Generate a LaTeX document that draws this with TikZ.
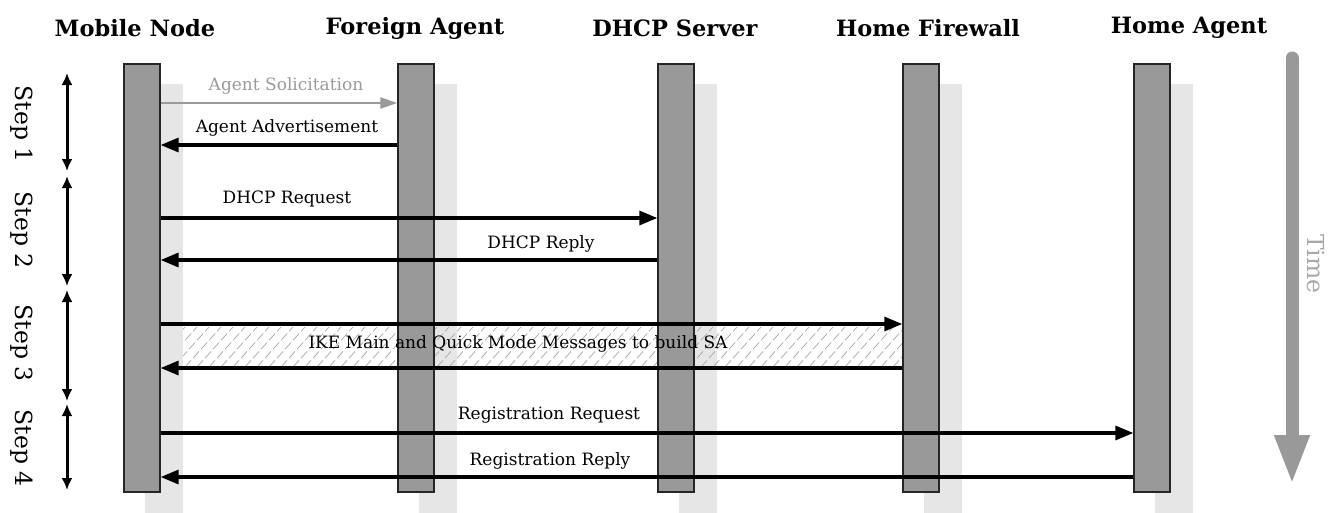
\documentclass[tikz,border=0pt]{standalone}
\usepackage{fontspec}
\setmainfont{DejaVu Serif}
\usetikzlibrary{arrows.meta}
\definecolor{barfill}{HTML}{999999}
\definecolor{shadowgray}{HTML}{E6E6E6}
\definecolor{soft}{HTML}{9A9A9A}
\definecolor{timetext}{HTML}{A8A8A8}
\definecolor{hatchc}{HTML}{A8A8A8}
\tikzset{
  lifeline/.style={draw=black!85, line width=1.3pt, fill=barfill, minimum width=36pt, minimum height=428pt, inner sep=0pt},
  head/.style={font=\bfseries\fontsize{22.5}{26}\selectfont, anchor=center},
  lbl/.style={font=\fontsize{17}{20}\selectfont, anchor=center, inner sep=0pt},
  msg/.style={line width=3.2pt, -{Triangle[length=18pt,width=14pt]}},
  softmsg/.style={line width=2.2pt, draw=soft, -{Triangle[length=17pt,width=11pt]}},
  steparrow/.style={line width=3pt, {Latex[length=12pt,width=11pt]}-{Latex[length=12pt,width=11pt]}},
  steplbl/.style={font=\fontsize{23.5}{26}\selectfont, rotate=-90, anchor=center, inner sep=0pt},
  timearrow/.style={line width=13pt, draw=barfill, line cap=round, -{Triangle[length=50pt,width=32pt]}}
}
\begin{document}
\begin{tikzpicture}[x=1pt,y=-1pt]
\useasboundingbox (0,0) rectangle (1331,512);
% participants
\node[lifeline] (mn) at (142,278) {};
\node[lifeline] (fa) at (416,278) {};
\node[lifeline] (dh) at (676,278) {};
\node[lifeline] (hf) at (921,278) {};
\node[lifeline] (ha) at (1152,278) {};

% drop shadows
\foreach \p in {mn,fa,dh,hf,ha}
  \fill[shadowgray] ([shift={(22,21)}]\p.north west) rectangle ([shift={(22,21)}]\p.south east);

% hatched band behind the IKE exchange
\coordinate (ikeA) at (183,327);
\coordinate (ikeB) at (903,367);
\begin{scope}
  \clip (ikeA) rectangle (ikeB);
  \foreach \k in {0,12,...,800}
    \draw[hatchc, line width=0.7pt, dash pattern=on 9pt off 3pt] (161+\k-36,367) -- (161+\k,327);
\end{scope}

% bars on top of their shadows
\foreach \x in {142,416,676,921,1152}
  \node[lifeline] at (\x,278) {};

% headings
\node[head] (hmn) at (135,28) {Mobile Node};
\node[head] (hfa) at (415,28) {Foreign Agent};
\node[head] (hdh) at (675,28) {DHCP Server};
\node[head] (hhf) at (928,28) {Home Firewall};
\node[head] (hha) at (1189,28) {Home Agent};

% step 1: agent discovery
\draw[softmsg] (mn.east |- 0,103) -- (fa.west |- 0,103);
\node[lbl, text=soft] (l1) at (286,86) {Agent Solicitation};
\draw[msg] (fa.west |- 0,145) -- (mn.east |- 0,145);
\node[lbl] (l2) at (287,128) {Agent Advertisement};

% step 2: DHCP
\draw[msg] (mn.east |- 0,218) -- (dh.west |- 0,218);
\node[lbl] (l3) at (287,199) {DHCP Request};
\draw[msg] (dh.west |- 0,260) -- (mn.east |- 0,260);
\node[lbl] (l4) at (541,244) {DHCP Reply};

% step 3: IKE
\draw[msg] (mn.east |- 0,324) -- (hf.west |- 0,324);
\draw[msg] (hf.west |- 0,368) -- (mn.east |- 0,368);
\node[lbl] (l5) at (518,344) {IKE Main and Quick Mode Messages to build SA};

% step 4: registration
\draw[msg] (mn.east |- 0,433) -- (ha.west |- 0,433);
\node[lbl] (l6) at (549,415) {Registration Request};
\draw[msg] (ha.west |- 0,477) -- (mn.east |- 0,477);
\node[lbl] (l7) at (550,461) {Registration Reply};

% step markers
\coordinate (s0) at (67,73);
\coordinate (s1a) at (67,171);
\coordinate (s1b) at (67,176);
\coordinate (s2a) at (67,286);
\coordinate (s2b) at (67,290);
\coordinate (s3a) at (67,401);
\coordinate (s3b) at (67,404);
\coordinate (s4) at (67,490);
\draw[steparrow] (s0) -- (s1a);
\draw[steparrow] (s1b) -- (s2a);
\draw[steparrow] (s2b) -- (s3a);
\draw[steparrow] (s3b) -- (s4);
\node[steplbl] (t1) at (22,124) {Step 1};
\node[steplbl] (t2) at (22,230) {Step 2};
\node[steplbl] (t3) at (22,343) {Step 3};
\node[steplbl] (t4) at (22,448) {Step 4};

% time axis
\coordinate (time0) at (1292,58);
\coordinate (time1) at (1292,485);
\draw[timearrow] (time0) -- (time1);
\node[steplbl, text=timetext] (tl) at (1316,264) {Time};
\end{tikzpicture}
\end{document}
